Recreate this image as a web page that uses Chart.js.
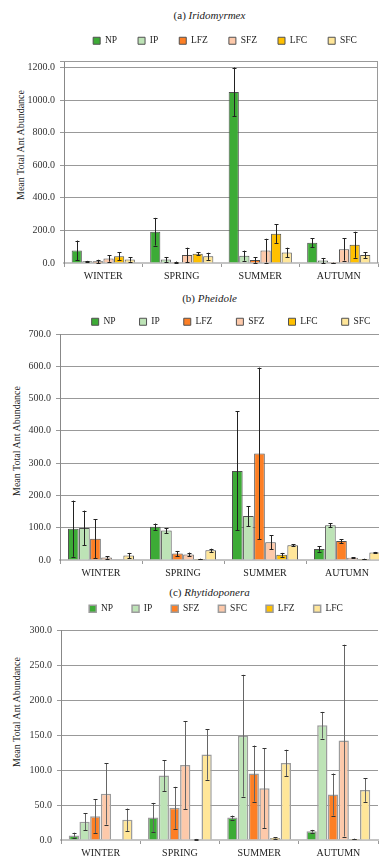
<!DOCTYPE html>
<html>
<head>
<meta charset="utf-8">
<script src="https://cdn.jsdelivr.net/npm/chart.js@4"></script>
<style>
html, body { margin: 0; padding: 0; background: #fff; overflow: hidden; }
body { width: 379px; height: 856px; position: relative; font-family: "Liberation Serif", "Times New Roman", Tinos, serif; color: #222; }
canvas { position: absolute; left: 0; }
.title { position: absolute; left: 40px; width: 339px; text-align: center; font-size: 11px; line-height: 13px; }
.ytitle { position: absolute; font-size: 10px; white-space: nowrap; transform: translate(-50%, -50%) rotate(-90deg); }
</style>
</head>
<body>
<div class="title" style="top:9px">(a) <i>Iridomyrmex</i></div>
<div class="title" style="top:292px">(b) <i>Pheidole</i></div>
<div class="title" style="top:586px">(c) <i>Rhytidoponera</i></div>
<div class="ytitle" style="left:20px;top:145px">Mean Total Ant Abundance</div>
<div class="ytitle" style="left:16px;top:441px">Mean Total Ant Abundance</div>
<div class="ytitle" style="left:16px;top:712px">Mean Total Ant Abundance</div>
<canvas id="chartA" width="379" height="285" style="top:0px"></canvas>
<canvas id="chartB" width="390" height="300" style="top:282px"></canvas>
<canvas id="chartC" width="379" height="280" style="top:582px"></canvas>
<script>
// Data
const seasons = ['WINTER', 'SPRING', 'SUMMER', 'AUTUMN'];

// (a) Iridomyrmex
const iridoLabels = ['NP', 'IP', 'LFZ', 'SFZ', 'LFC', 'SFC'];
const iridoNP = [77, 192, 1050, 125];
const iridoNPErr = [61, 85, 150, 28];
const iridoIP = [10, 22, 45, 15];
const iridoIPErr = [3, 15, 31, 16];
const iridoLFZ = [10, 5, 18, 1];
const iridoLFZErr = [10, 4, 17, 1];
const iridoSFZ = [28, 49, 76, 84];
const iridoSFZErr = [20, 45, 73, 69];
const iridoLFC = [41, 57, 180, 112];
const iridoLFCErr = [24, 8, 57, 80];
const iridoSFC = [22, 41, 65, 49];
const iridoSFCErr = [14, 22, 29, 18];

// (b) Pheidole
const pheiLabels = ['NP', 'IP', 'LFZ', 'SFZ', 'LFC', 'SFC'];
const pheiNP = [97, 103, 276, 34];
const pheiNPErr = [87, 10, 184, 8];
const pheiIP = [99, 91, 136, 108];
const pheiIPErr = [54, 8, 31, 6];
const pheiLFZ = [66, 20, 330, 59];
const pheiLFZErr = [60, 8, 266, 6];
const pheiSFZ = [8, 17, 55, 7];
const pheiSFZErr = [4, 6, 22, 2];
const pheiLFC = [1, 3, 16, 3];
const pheiLFCErr = [0, 1, 6, 1];
const pheiSFC = [14, 30, 46, 23];
const pheiSFCErr = [8, 5, 3, 2];

// (c) Rhytidoponera
const rhytLabels = ['NP', 'IP', 'SFZ', 'SFC', 'LFZ', 'LFC'];
const rhytNP = [6.5, 32, 32, 12.5];
const rhytNPErr = [4, 21, 3, 2];
const rhytIP = [26, 92, 149, 164];
const rhytIPErr = [12, 22, 87, 19];
const rhytSFZ = [34, 46, 95, 65];
const rhytSFZErr = [24, 30, 40, 30];
const rhytSFC = [66, 107, 74, 142];
const rhytSFCErr = [44, 63, 57, 137];
const rhytLFZ = [0, 1, 3, 1.5];
const rhytLFZErr = [0, 0.5, 1, 0.5];
const rhytLFC = [29, 122, 110, 71.5];
const rhytLFCErr = [16, 36, 19, 17];

const barColors = ['#3dab36', '#bde3b6', '#fd7f25', '#fdc9aa', '#ffc000', '#ffe699'];
const serif = "'Liberation Serif', 'Times New Roman', Tinos, serif";

// error bars drawn from each bar's value through the y scale
function errorBars(lineColor, capColor) {
    return {
        id: 'errorBars',
        afterDatasetsDraw(chart) {
            const ctx = chart.ctx;
            const y = chart.scales.y;
            ctx.save();
            chart.data.datasets.forEach((ds, i) => {
                chart.getDatasetMeta(i).data.forEach((bar, j) => {
                    const v = ds.data[j], e = ds.errors[j];
                    if (!e) return;
                    const top = y.getPixelForValue(v + e);
                    const bot = y.getPixelForValue(Math.max(0, v - e));
                    const x = Math.round(bar.x) + 0.5;
                    ctx.lineWidth = 1;
                    ctx.strokeStyle = lineColor;
                    ctx.beginPath();
                    ctx.moveTo(x, top);
                    ctx.lineTo(x, bot);
                    ctx.stroke();
                    ctx.strokeStyle = capColor;
                    ctx.beginPath();
                    ctx.moveTo(x - 2, Math.round(top) + 0.5);
                    ctx.lineTo(x + 2, Math.round(top) + 0.5);
                    ctx.moveTo(x - 2, Math.round(bot) + 0.5);
                    ctx.lineTo(x + 2, Math.round(bot) + 0.5);
                    ctx.stroke();
                });
            });
            ctx.restore();
        }
    };
}

// legend height and horizontal centre
function legendPlace(height, center) {
    return {
        id: 'legendPlace',
        beforeInit(chart) {
            const fit = chart.legend.fit;
            chart.legend.fit = function () {
                fit.call(this);
                this.height = height;
            };
        },
        afterLayout(chart) {
            chart.legend.left = center - 185;
            chart.legend.right = center + 185;
        }
    };
}

// top and right frame (panel a)
const frame = {
    id: 'frame',
    beforeDatasetsDraw(chart) {
        const a = chart.chartArea, ctx = chart.ctx;
        ctx.save();
        ctx.strokeStyle = '#9a9a9a';
        ctx.lineWidth = 1;
        ctx.beginPath();
        ctx.moveTo(a.left, a.top + 0.5);
        ctx.lineTo(a.right - 0.5, a.top + 0.5);
        ctx.lineTo(a.right - 0.5, a.bottom);
        ctx.stroke();
        ctx.restore();
    }
};

function makeDatasets(labels, series, errs, border, bw) {
    return labels.map((l, i) => ({
        label: l,
        data: series[i],
        errors: errs[i],
        backgroundColor: barColors[i],
        borderColor: border,
        borderWidth: bw,
        categoryPercentage: 0.81,
        barPercentage: 0.96
    }));
}

function makeChart(id, cfg) {
    const tickFont = { family: serif, size: 10 };
    return new Chart(document.getElementById(id), {
        type: 'bar',
        data: { labels: seasons, datasets: cfg.datasets },
        options: {
            responsive: false,
            animation: false,
            layout: { padding: { top: cfg.padTop, left: 0, right: cfg.padRight, bottom: 0 } },
            plugins: {
                tooltip: { enabled: false },
                title: { display: false },
                legend: {
                    position: 'top',
                    labels: {
                        font: { family: serif, size: 9.5 },
                        color: '#222',
                        boxWidth: 7,
                        boxHeight: 7,
                        padding: cfg.legendPad
                    }
                }
            },
            scales: {
                x: {
                    afterFit(scale) { scale.height = 22; },
                    grid: { offset: true, drawOnChartArea: false, tickLength: 4, color: '#999' },
                    border: { color: '#c4c4c4', width: 2 },
                    ticks: { font: tickFont, color: '#222', padding: 3, maxRotation: 0 }
                },
                y: {
                    min: 0,
                    max: cfg.max,
                    afterFit(scale) { scale.width = cfg.left; },
                    afterBuildTicks(scale) {
                        const t = [];
                        for (let v = 0; v <= cfg.max; v += cfg.step) t.push({ value: v });
                        if (t[t.length - 1].value !== cfg.max) t.push({ value: cfg.max });
                        scale.ticks = t;
                    },
                    ticks: {
                        font: tickFont,
                        color: '#333',
                        padding: 5,
                        callback: v => (v % cfg.step === 0 ? v.toFixed(1) : '')
                    },
                    grid: {
                        tickLength: 4,
                        color: c => (c.tick && c.tick.value === 0 ? 'rgba(0,0,0,0)' : '#999')
                    },
                    border: { color: '#888' }
                }
            }
        },
        plugins: cfg.plugins
    });
}

window.onload = () => {
    makeChart('chartA', {
        datasets: makeDatasets(iridoLabels,
            [iridoNP, iridoIP, iridoLFZ, iridoSFZ, iridoLFC, iridoSFC],
            [iridoNPErr, iridoIPErr, iridoLFZErr, iridoSFZErr, iridoLFCErr, iridoSFCErr],
            '#505050', 1),
        max: 1240, step: 200, left: 64, padTop: 15, padRight: 1, legendPad: 21,
        plugins: [legendPlace(46, 225), errorBars('#222', '#222'), frame]
    });
    makeChart('chartB', {
        datasets: makeDatasets(pheiLabels,
            [pheiNP, pheiIP, pheiLFZ, pheiSFZ, pheiLFC, pheiSFC],
            [pheiNPErr, pheiIPErr, pheiLFZErr, pheiSFZErr, pheiLFCErr, pheiSFCErr],
            '#505050', 1),
        max: 700, step: 100, left: 60, padTop: 11, padRight: 2, legendPad: 24,
        plugins: [legendPlace(41, 231), errorBars('#222', '#222')]
    });
    makeChart('chartC', {
        datasets: makeDatasets(rhytLabels,
            [rhytNP, rhytIP, rhytSFZ, rhytSFC, rhytLFZ, rhytLFC],
            [rhytNPErr, rhytIPErr, rhytSFZErr, rhytSFCErr, rhytLFZErr, rhytLFCErr],
            '#9c9c9c', 1.5),
        max: 300, step: 50, left: 61, padTop: 3, padRight: 1, legendPad: 19,
        plugins: [legendPlace(45, 216), errorBars('#666', '#333')]
    });
};
</script>
</body>
</html>
